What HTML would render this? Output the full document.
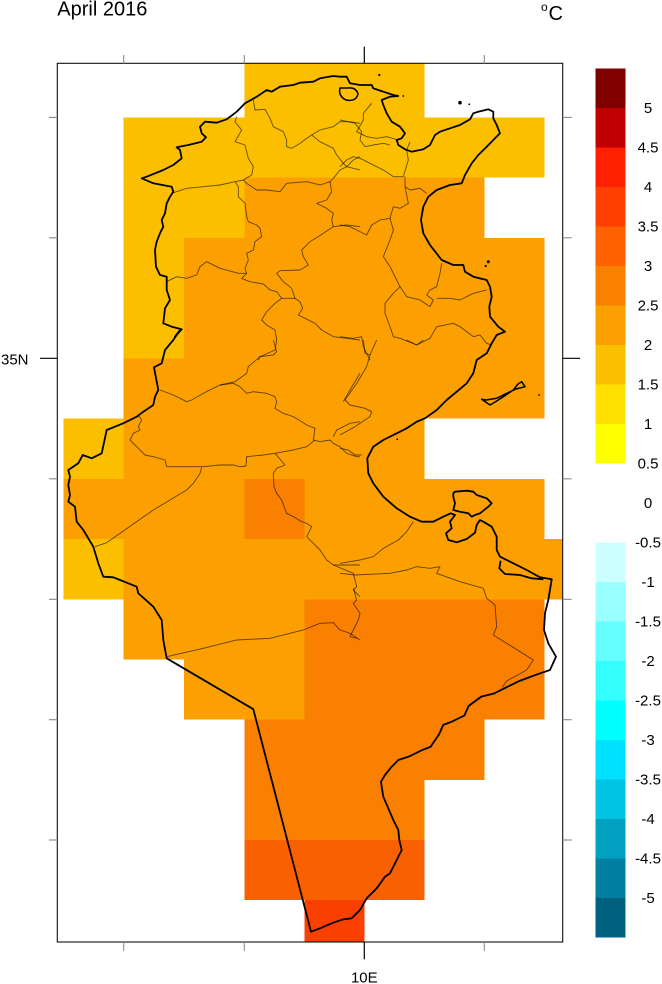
<!DOCTYPE html>
<html><head><meta charset="utf-8"><style>
html,body{margin:0;padding:0;background:#fff;}
svg{display:block;}
.b{fill:none;stroke:#000;stroke-opacity:0.6;stroke-width:0.9;vector-effect:non-scaling-stroke;stroke-linejoin:round;}
.c{fill:none;stroke:#000;stroke-width:1.8;stroke-linejoin:round;}
.ci{fill:none;stroke:#000;stroke-width:1.8;vector-effect:non-scaling-stroke;stroke-linejoin:round;}
text{font-family:"Liberation Sans",Arial,sans-serif;fill:#000;}
</style></head><body>
<svg width="662" height="984" viewBox="0 0 662 984" xmlns="http://www.w3.org/2000/svg">
<rect width="662" height="984" fill="#fff"/>
<text x="57.3" y="15.5" font-size="20">April 2016</text>
<text x="541" y="11" font-size="12">o</text>
<text x="548.5" y="20" font-size="20">C</text>

<defs><clipPath id="fr"><rect x="57.3" y="63.3" width="505.4" height="878.7"/></clipPath></defs>
<g clip-path="url(#fr)">
<g shape-rendering="crispEdges">
<rect x="244.3" y="63.3" width="180" height="54.1" fill="#FCBF00"/>
<rect x="123.7" y="117.4" width="420.8" height="60.2" fill="#FCBF00"/>
<rect x="123.7" y="177.6" width="120.6" height="60.2" fill="#FCBF00"/>
<rect x="244.3" y="177.6" width="240" height="60.2" fill="#FBA000"/>
<rect x="123.7" y="237.8" width="60.3" height="120.5" fill="#FCBF00"/>
<rect x="184" y="237.8" width="360.5" height="120.5" fill="#FBA000"/>
<rect x="123.7" y="358.3" width="420.8" height="60.2" fill="#FBA000"/>
<rect x="63.5" y="418.5" width="60.2" height="60.3" fill="#FCBF00"/>
<rect x="123.7" y="418.5" width="300.6" height="60.3" fill="#FBA000"/>
<rect x="63.5" y="478.8" width="481" height="60.2" fill="#FBA000"/>
<rect x="244.3" y="478.8" width="60" height="60.2" fill="#F98000"/>
<rect x="63.5" y="539" width="60.2" height="60.3" fill="#FCBF00"/>
<rect x="123.7" y="539" width="439" height="60.3" fill="#FBA000"/>
<rect x="123.7" y="599.3" width="180.6" height="60.2" fill="#FBA000"/>
<rect x="304.3" y="599.3" width="240.2" height="60.2" fill="#F98000"/>
<rect x="184" y="659.5" width="120.3" height="60.2" fill="#FBA000"/>
<rect x="304.3" y="659.5" width="240.2" height="60.2" fill="#F98000"/>
<rect x="244.3" y="719.7" width="240" height="60.1" fill="#F98000"/>
<rect x="244.3" y="779.8" width="180" height="60.2" fill="#F98000"/>
<rect x="244.3" y="840" width="180" height="60" fill="#F96000"/>
<rect x="304.3" y="900" width="60" height="42" fill="#F94000"/>
</g>

<!-- internal boundaries -->
<g transform="translate(120,60) scale(0.33333)">
<polyline class="b" points="350,170 345,185 365,210 345,245 375,255 385,295 400,320 395,345 370,360 345,365 300,375 250,380 200,385 155,400"/>
<polyline class="b" points="370,360 380,370 410,390 440,390 480,395 500,370 560,365 600,375 630,365 640,355 660,330 680,320 720,330"/>
<polyline class="b" points="345,365 355,380 355,410 375,430 380,470 385,485 410,495 420,505 425,530 405,545 400,570 380,580 385,600 375,625 380,640 355,640 300,625 260,605 240,620 230,645 200,655 170,650 140,665"/>
<polyline class="b" points="380,640 365,655 390,665 430,672 450,690 470,695 485,715 525,715 540,725 548,745 535,765 555,775 585,790 605,810 640,830 680,835 720,840"/>
<polyline class="b" points="485,715 465,730 440,755 425,780 440,795 465,810 470,840 465,870 420,890 415,900"/>
<polyline class="b" points="525,715 515,685 490,665 470,640 480,632 540,630 565,615 550,590 545,570 570,545 595,530 625,510 640,500 680,495 720,500"/>
<polyline class="b" points="640,500 635,480 640,460 620,445 600,435 590,430 620,420 635,395 630,365"/>
<polyline class="b" points="400,120 405,150 435,148 450,175 460,200 490,215 500,240 500,260 515,265 540,250 560,235 575,225 600,210 640,200 660,185 690,185 720,190"/>
<polyline class="b" points="575,225 600,245 640,265 650,285 670,310 680,320"/>
<polyline class="b" points="680,320 700,300 720,290"/>
</g>
<g transform="translate(340,60) scale(0.33333)">
<polyline class="b" points="0,180 45,190 65,215 60,240 75,260 100,255 130,250 150,255"/>
<polyline class="b" points="95,130 70,160 70,180 50,215 80,230 110,235 140,230 175,240"/>
<polyline class="b" points="0,320 20,300 40,290 60,295 90,310 130,330 160,350 190,350 205,300 200,270 210,245"/>
<polyline class="b" points="195,350 195,380 210,390 240,385 260,400"/>
<polyline class="b" points="195,380 205,430 180,445 160,440 150,475 120,480 95,495 80,525 50,510 30,500 0,495"/>
<polyline class="b" points="150,475 160,510 150,540 130,590 150,620 170,660 180,680 200,710 240,720 270,740 280,720 260,705 270,690 290,680 300,640 305,610"/>
<polyline class="b" points="180,680 160,700 135,730 135,760 150,800 160,830 180,835 230,855 270,835 290,800 340,790 360,800 380,815 400,830 420,825 440,850 455,855"/>
<polyline class="b" points="0,830 40,835 65,830 70,860 90,900"/>
<polyline class="b" points="290,715 330,715 360,720 400,700 440,690"/>
</g>
<g transform="translate(120,340) scale(0.33333)">
<polyline class="b" points="120,150 160,165 200,185 215,180 250,160 300,135 340,130 360,140 380,160 400,155 440,160 465,170 470,185 465,205 490,220 520,230 545,245 560,255 585,265 580,300 600,305 630,300 640,310 660,320 680,340 710,350 720,350"/>
<polyline class="b" points="300,135 345,125 380,100 385,80 420,50 460,45 470,35 460,0"/>
<polyline class="b" points="585,300 560,320 520,330 465,340 430,345 380,350 378,378 360,380 340,375 300,375 250,380 200,380 140,380 135,360 100,350 75,345 55,325 30,300 40,280 60,270 55,260 65,240 55,225"/>
<polyline class="b" points="465,340 495,375 470,385 460,400 462,440 470,460 485,480 500,520 520,530 545,545 560,550 575,560 560,590 580,610 600,630 620,660 640,675 700,700 710,740 700,750 720,770"/>
<polyline class="b" points="640,675 720,675"/>
<polyline class="b" points="245,382 240,400 220,430 200,450 150,480 100,510 50,545 0,580 -40,608 -75,620"/>
<polyline class="b" points="140,950 250,925 350,900 450,895 550,870 600,850 640,848 660,870 690,880 720,900"/>
<polyline class="b" points="670,185 690,150 720,100"/>
<polyline class="b" points="640,290 650,270 690,250 720,245"/>
</g>
<g transform="translate(340,340) scale(0.33333)">
<polyline class="b" points="70,0 75,40 90,45 80,80 50,130 15,180 30,195 75,205 95,215 90,230 45,260 0,285"/>
<polyline class="b" points="110,0 90,45"/>
<polyline class="b" points="200,0 230,15 250,0"/>
<polyline class="b" points="0,325 25,330 45,345 65,345"/>
<polyline class="b" points="220,545 200,575 175,600 130,625 100,650 60,660 0,670"/>
<polyline class="b" points="0,700 45,705 150,700 200,690 230,680 270,685 300,680 290,700 360,725 430,745 440,775 465,795 470,860 460,885 500,910 540,935 580,960 560,990 500,1023 487,1042"/>
<polyline class="b" points="40,745 50,780 40,790 60,820 55,840 40,870 30,890 50,895"/>
</g>

<!-- coastline / border -->
<polygon class="c" points="141.7,178.3 146.7,176.7 163.3,170 173.3,165 181.7,158.3 180,150 176.7,147.3 188.3,145 201.7,141.7 206,137.3 201.7,133.3 200,126.7 205,121.7 216.7,122.7 226.7,119.3 236.7,111.7 245,103.3 256.7,96.7 266.7,90 271.7,91.7 280,86.7 293.3,85 300,82.7 313.3,81.7 320,78.3 333.3,76 340,76.7 346.7,76.7 350,83.3 360,85 371.7,85 373.3,88.3 383.3,91.7 393.3,95 398.3,96 390,96.7 381.7,100 383.3,105 386.7,113.3 391.7,121.7 400,126.7 405,133.3 401.7,138.3 396.7,140 398.3,145 405,149.3 411.7,151.7 423.3,149.3 430,145 435,135 440,131.7 450,128.3 460,125 470,119.3 473.3,113.3 478.3,111.7 488.3,109.3 493.3,111.7 493.3,118.3 496.7,125 500,133.3 495,138.3 486.7,146.7 478.3,155 471.7,163.3 465,175 461.7,183.3 450,185 436.7,190 428.3,196.7 423.3,206.7 421,220 423.3,233.3 430,245 441.7,260 453.3,265 463.3,265 465,271.7 473.3,276.7 486.7,280 490,286.7 491.7,296.7 489.3,306.7 490,316.7 498.3,326.7 505,331.7 496.7,335 491.7,343.3 486.7,353.3 476.7,360 473.3,373.3 466.7,383.3 456.7,391.7 446.7,400 436.7,410 425,418.3 416.7,421.7 406.7,428.3 400,431.7 383.3,440 373.3,446.7 367.3,458.3 368.3,473.3 373.3,483.3 383.3,496.7 396.7,508.3 410,516.7 421.7,521.7 433.3,521.7 443.3,516.7 450.7,513.3 455,515 450,521.7 451.7,528.3 446,533.3 448.3,540 456.7,542.3 466.7,539 475,532.7 476.7,525 480,520 483.3,521.7 491.7,526.7 496.7,536.7 496.7,550 500,556.7 513.3,563.3 526.7,570 540,577.3 551.7,579.3 548.3,600 545,613.3 544,630 548.3,643.3 556,656.7 550,670 536.2,674.7 519.3,681 506.6,687.2 494,693.5 481.3,696.6 468.6,706 464.4,715.5 451.7,721.7 443.3,724.9 439.1,734.3 430.6,746.8 422.2,750 409.5,756.3 398.3,760 391.7,766.7 385,775 381,781.7 381.7,786.7 383.3,796.7 388.3,808.3 393.3,820 398.3,830 399.3,840 401.7,850 396.7,860 390,873.3 385,876.7 376.7,888.3 366.7,898.3 360,910 351.7,918.3 343.3,919.3 333.3,922.7 320,928.3 311,931.7 253.3,709.2 166.7,658.3 163.3,640 161.7,620 153.3,606.7 138.3,593.3 136.7,586.7 120,580 113.3,577.3 103.3,576.7 98.3,563.3 93.3,546.7 83.3,530 76.7,521.7 75,506.7 68.3,501.7 70,495 68.3,485 70,476.7 68.3,470 78.3,463.3 82.7,455 91.7,458.3 101.7,453.3 106.7,430 123.3,423.3 136.7,416.7 143.3,411.7 153.3,405 155,396.7 158.3,390 154,367.3 161.7,363.3 165,350 173.3,340 180,330 175,336.7 181.7,329.3 171.7,326.7 163.3,323.3 165,308.3 170,300 166.7,290 166.7,276.7 160,275 156,266.7 155,250 156.7,241.7 160,233.3 163.3,226.7 161.7,220 165,213.3 166.7,203.3 170,196.7 173.3,191.7 171.7,186.7 153.3,183.3"/>
<!-- Bizerte lake -->
<path class="c" d="M340,88 Q338,96 346,100 Q356,102 358,94 Q356,87 348,88 Z" style="stroke-width:1.5"/>
<!-- Djerba -->
<polygon class="c" points="453.3,493.3 455,491.7 466.7,490.7 473.3,491.7 476.7,495 486.7,498.3 491.7,503.3 488.3,506.7 483.3,510.7 480,513.3 475,515 471.7,516.7 468.3,513.3 460,511.7 453.3,510 455,503.3 453.3,496.7"/>
<!-- Kerkennah -->
<polygon class="c" points="481.7,399.3 490,405 496.7,401 503.3,396.7 513.3,390 518,384 521.7,381.7 525,386.7 516,389 506.7,393.3 496.7,398.3 486,400" style="stroke-width:1.5"/>
<!-- El Bibane -->
<g transform="translate(340,340) scale(0.33333)"><polyline class="ci" points="482,662 478,685 495,702 540,705 575,715 610,718"/></g>
<!-- islands -->
<g fill="#000">
<circle cx="460" cy="102.7" r="1.8"/><circle cx="469.3" cy="104.3" r="0.9"/>
<circle cx="379.3" cy="75" r="1.1"/><circle cx="403.3" cy="96" r="0.9"/>
<circle cx="488.3" cy="261.7" r="1.5"/><circle cx="485.7" cy="266" r="1.1"/>
<circle cx="539" cy="395" r="0.9"/><circle cx="397.3" cy="439.3" r="0.9"/>
</g>
</g>

<!-- frame -->
<rect x="57.3" y="63.3" width="505.4" height="878.7" fill="none" stroke="#111" stroke-width="1.1"/>
<!-- ticks -->
<g stroke="#888" stroke-width="1.1">
<line x1="123.7" y1="55" x2="123.7" y2="63.3"/><line x1="244.3" y1="55" x2="244.3" y2="63.3"/><line x1="484.3" y1="55" x2="484.3" y2="63.3"/>
<line x1="123.7" y1="942" x2="123.7" y2="950.7"/><line x1="244.3" y1="942" x2="244.3" y2="950.7"/><line x1="484.3" y1="942" x2="484.3" y2="950.7"/>
<line x1="49" y1="117.4" x2="57.3" y2="117.4"/><line x1="49" y1="237.8" x2="57.3" y2="237.8"/><line x1="49" y1="478.8" x2="57.3" y2="478.8"/><line x1="49" y1="599.3" x2="57.3" y2="599.3"/><line x1="49" y1="719.7" x2="57.3" y2="719.7"/><line x1="49" y1="840" x2="57.3" y2="840"/>
<line x1="562.7" y1="117.4" x2="571.7" y2="117.4"/><line x1="562.7" y1="237.8" x2="571.7" y2="237.8"/><line x1="562.7" y1="478.8" x2="571.7" y2="478.8"/><line x1="562.7" y1="599.3" x2="571.7" y2="599.3"/><line x1="562.7" y1="719.7" x2="571.7" y2="719.7"/><line x1="562.7" y1="840" x2="571.7" y2="840"/>
</g>
<g stroke="#000" stroke-width="1.2">
<line x1="364.3" y1="46.7" x2="364.3" y2="63.3"/>
<line x1="364.3" y1="942" x2="364.3" y2="959.3"/>
<line x1="40" y1="358.3" x2="57.3" y2="358.3"/>
<line x1="562.7" y1="358.3" x2="580" y2="358.3"/>
</g>
<text x="1" y="364.5" font-size="15">35N</text>
<text x="364.3" y="982.5" font-size="15" text-anchor="middle">10E</text>

<!-- colorbar -->
<g shape-rendering="crispEdges">
<rect x="595.7" y="68.3" width="30" height="39.5" fill="#800000"/>
<rect x="595.7" y="107.8" width="30" height="39.5" fill="#C00000"/>
<rect x="595.7" y="147.3" width="30" height="39.5" fill="#FF2000"/>
<rect x="595.7" y="186.8" width="30" height="39.5" fill="#FF4000"/>
<rect x="595.7" y="226.3" width="30" height="39.5" fill="#FF6000"/>
<rect x="595.7" y="265.8" width="30" height="39.5" fill="#FA8000"/>
<rect x="595.7" y="305.3" width="30" height="39.5" fill="#FBA000"/>
<rect x="595.7" y="344.8" width="30" height="39.5" fill="#FCBF00"/>
<rect x="595.7" y="384.3" width="30" height="39.5" fill="#FFE000"/>
<rect x="595.7" y="423.8" width="30" height="39.5" fill="#FFFF00"/>
<rect x="595.7" y="542.3" width="30" height="39.5" fill="#CCFFFF"/>
<rect x="595.7" y="581.8" width="30" height="39.5" fill="#99FFFF"/>
<rect x="595.7" y="621.3" width="30" height="39.5" fill="#66FFFF"/>
<rect x="595.7" y="660.8" width="30" height="39.5" fill="#33FFFF"/>
<rect x="595.7" y="700.3" width="30" height="39.5" fill="#00FFFF"/>
<rect x="595.7" y="739.8" width="30" height="39.5" fill="#00E0FF"/>
<rect x="595.7" y="779.3" width="30" height="39.5" fill="#00C4E4"/>
<rect x="595.7" y="818.8" width="30" height="39.5" fill="#00A0C0"/>
<rect x="595.7" y="858.3" width="30" height="39.5" fill="#0080A0"/>
<rect x="595.7" y="897.8" width="30" height="39.5" fill="#006080"/>
</g>
<g font-size="15" text-anchor="middle">
<text x="648" y="113.2">5</text>
<text x="648" y="152.7">4.5</text>
<text x="648" y="192.2">4</text>
<text x="648" y="231.7">3.5</text>
<text x="648" y="271.2">3</text>
<text x="648" y="310.7">2.5</text>
<text x="648" y="350.2">2</text>
<text x="648" y="389.7">1.5</text>
<text x="648" y="429.2">1</text>
<text x="648" y="468.7">0.5</text>
<text x="648" y="508.2">0</text>
<text x="648" y="547.7">-0.5</text>
<text x="648" y="587.2">-1</text>
<text x="648" y="626.7">-1.5</text>
<text x="648" y="666.2">-2</text>
<text x="648" y="705.7">-2.5</text>
<text x="648" y="745.2">-3</text>
<text x="648" y="784.7">-3.5</text>
<text x="648" y="824.2">-4</text>
<text x="648" y="863.7">-4.5</text>
<text x="648" y="903.2">-5</text>
</g>
</svg>
</body></html>
